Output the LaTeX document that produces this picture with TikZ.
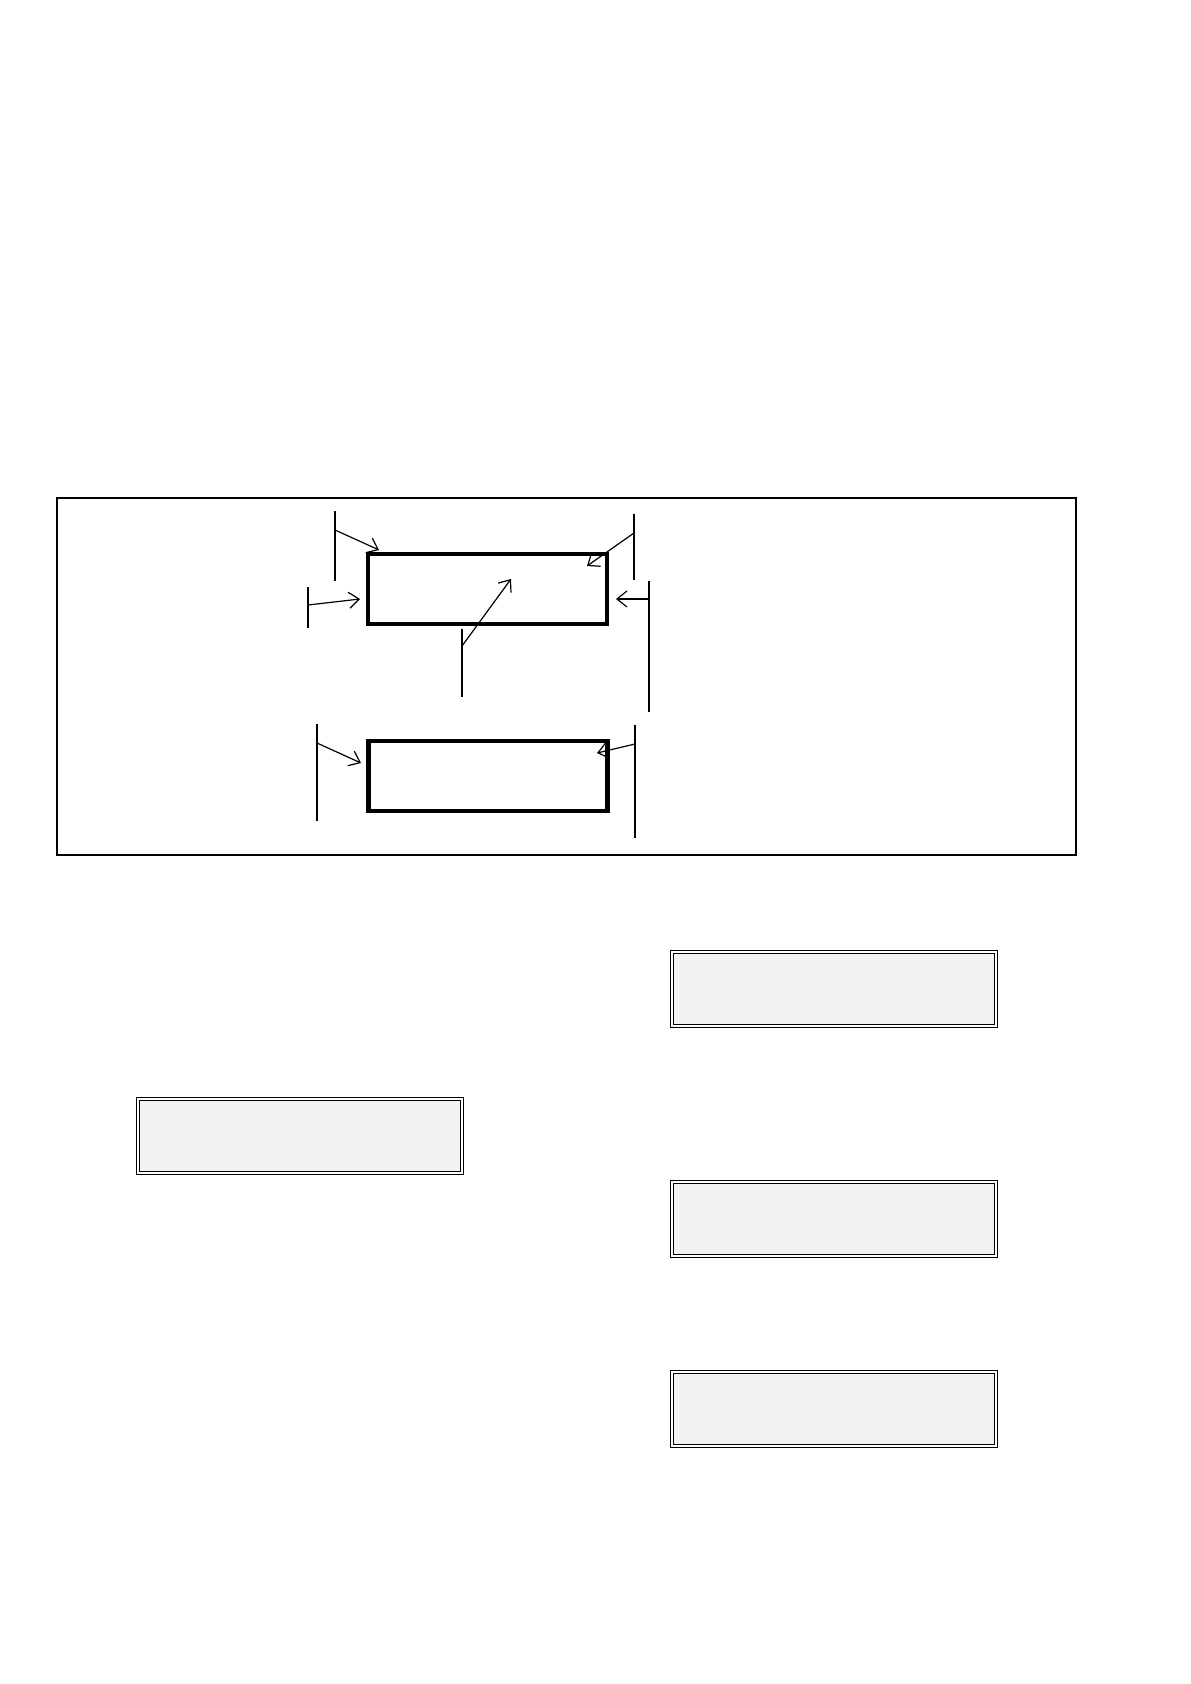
\documentclass[tikz,border=0pt]{standalone}
\usetikzlibrary{arrows.meta}
\definecolor{hellgrau}{RGB}{242,242,242}
\tikzset{
	block/.style={draw=black, line width=2.2pt, minimum width=119.5pt,
	minimum height=35pt, inner sep=0pt},
	feld/.style={draw=black, double, line width=0.7pt, double distance=0.6pt,
	fill=hellgrau, minimum width=162pt, minimum height=37pt, inner sep=0pt},
	pfeil/.style={-{Straight Barb[length=5pt,width=8pt]}, line width=0.6pt},
	duenn/.style={line width=0.6pt},
	dick/.style={line width=1.1pt}
}
\begin{document}
\begin{tikzpicture}[x=0.5pt, y=-0.5pt]
	\useasboundingbox (0,0) rectangle (1190,1684);
	% Rahmen
	\draw[line width=1pt] (57,498) rectangle (1076,855);
	% Bloecke im Rahmen
	\node[block] (oben) at (487.5,589) {};
	\node[block] (unten) at (488,776) {};
	% Striche und Pfeile oben
	\draw[duenn] (335,511) -- (335,581);
	\coordinate (a1) at (335,530);
	\coordinate (e1) at (379,550);
	\draw[pfeil] (a1) -- (e1);
	\draw[dick] (308,587) -- (308,628);
	\coordinate (a2) at (308,605);
	\coordinate (e2) at (360,599);
	\draw[pfeil] (a2) -- (e2);
	\draw[duenn] (634,514) -- (634,580);
	\coordinate (a3) at (634,533);
	\coordinate (e3) at (587,566);
	\draw[pfeil] (a3) -- (e3);
	\draw[dick] (649,581) -- (649,712);
	\coordinate (a4) at (649,599);
	\coordinate (e4) at (616,599);
	\draw[pfeil] (a4) -- (e4);
	\draw[dick] (462,629) -- (462,697);
	\coordinate (a5) at (462,646);
	\coordinate (e5) at (511,579);
	\draw[pfeil] (a5) -- (e5);
	% Striche und Pfeile unten
	\draw[dick] (317,724) -- (317,821);
	\coordinate (a6) at (317,743);
	\coordinate (e6) at (361,763);
	\draw[pfeil] (a6) -- (e6);
	\draw[dick] (635,725) -- (635,838);
	\coordinate (a7) at (635,744);
	\coordinate (e7) at (597,753);
	\draw[pfeil] (a7) -- (e7);
	% graue Felder
	\node[feld] (links) at (300,1136) {};
	\node[feld] (rechts1) at (834,989) {};
	\node[feld] (rechts2) at (834,1219) {};
	\node[feld] (rechts3) at (834,1409) {};
\end{tikzpicture}
\end{document}
